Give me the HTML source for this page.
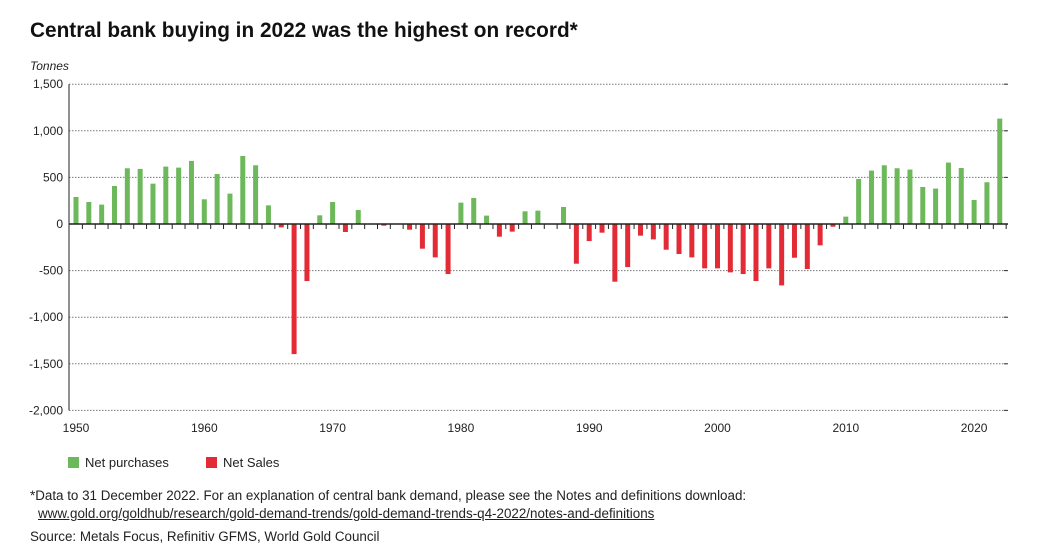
<!DOCTYPE html>
<html><head><meta charset="utf-8"><style>
body{margin:0;background:#fff;width:1053px;height:557px;overflow:hidden;font-family:"Liberation Sans",sans-serif;color:#222}
.t{position:absolute;white-space:nowrap}
</style></head><body>
<div class="t" style="left:30px;top:19px;font-size:20.8px;font-weight:bold;color:#111">Central bank buying in 2022 was the highest on record*</div>
<div class="t" style="left:30px;top:59px;font-size:12px;font-style:italic">Tonnes</div>
<svg id="chart" width="1053" height="450" style="position:absolute;left:0;top:0"></svg>
<div class="t" style="left:68px;top:455px;font-size:13px"><span style="display:inline-block;width:11px;height:11px;background:#6db85a;vertical-align:-1px;margin-right:6px"></span>Net purchases</div>
<div class="t" style="left:206px;top:455px;font-size:13px"><span style="display:inline-block;width:11px;height:11px;background:#e22b35;vertical-align:-1px;margin-right:6px"></span>Net Sales</div>
<div class="t" style="left:30px;top:488px;font-size:13.4px">*Data to 31 December 2022. For an explanation of central bank demand, please see the Notes and definitions download:</div>
<div class="t" style="left:38px;top:506px;font-size:13.4px;text-decoration:underline">www.gold.org/goldhub/research/gold-demand-trends/gold-demand-trends-q4-2022/notes-and-definitions</div>
<div class="t" style="left:30px;top:529px;font-size:13.4px">Source: Metals Focus, Refinitiv GFMS, World Gold Council</div>
<script>
const years=[];for(let y=1950;y<=2022;y++)years.push(y);
const values=[290,236,208,408,598,591,433,616,605,677,265,537,326,730,630,200,-36,-1396,-612,93,236,-86,150,0,-18,0,-61,-265,-358,-537,229,279,90,-136,-82,136,143,0,183,-426,-183,-93,-619,-462,-125,-165,-276,-322,-358,-476,-476,-519,-537,-612,-476,-659,-362,-483,-229,-29,79,483,573,630,598,584,397,380,659,601,258,448,1131];
const yTicks=[1500,1000,500,0,-500,-1000,-1500,-2000];
const yTickLabels=["1,500","1,000","500","0","-500","-1,000","-1,500","-2,000"];
const xLabelYears=[1950,1960,1970,1980,1990,2000,2010,2020];
const NS="http://www.w3.org/2000/svg",svg=document.getElementById('chart');
const y=v=>224-v*0.0932, x=yr=>76+(yr-1950)*12.83;
const L=69,R=1008;
function mk(t,a){const e=document.createElementNS(NS,t);for(const k in a)e.setAttribute(k,a[k]);svg.appendChild(e);return e;}
yTicks.forEach((v,i)=>{
 if(v!==0){const g=mk('line',{x1:L,x2:R,y1:y(v),y2:y(v),stroke:'#777','stroke-width':1,'stroke-dasharray':'1.5,1.5'});
 }
 const t=mk('text',{x:63,y:y(v)+4,'text-anchor':'end','font-size':12,fill:'#222'});t.textContent=yTickLabels[i];
 
 const tk=mk('line',{x1:R-4,x2:R,y1:y(v),y2:y(v),stroke:'#333'});
 
});
years.forEach((yr,i)=>{
 const v=values[i];if(v===0)return;
 const b=mk('rect',{x:x(yr)-2.5,width:5,y:Math.min(y(v),y(0)),height:Math.abs(y(v)-y(0)),fill:v>0?'#6db85a':'#e22b35'});
 
});
const ax=mk('line',{x1:L,x2:R,y1:y(0),y2:y(0),stroke:'#222','stroke-width':1.5});

const ya=mk('line',{x1:L,x2:L,y1:y(1500),y2:y(-2000),stroke:'#222','stroke-width':1});

years.forEach(yr=>{const t=mk('line',{x1:x(yr)+6.4,x2:x(yr)+6.4,y1:y(0),y2:y(0)+5,stroke:'#222'});
 });
xLabelYears.forEach(yr=>{const t=mk('text',{x:x(yr),y:432,'text-anchor':'middle','font-size':12,fill:'#222'});t.textContent=yr;
 });
</script>
</body></html>
